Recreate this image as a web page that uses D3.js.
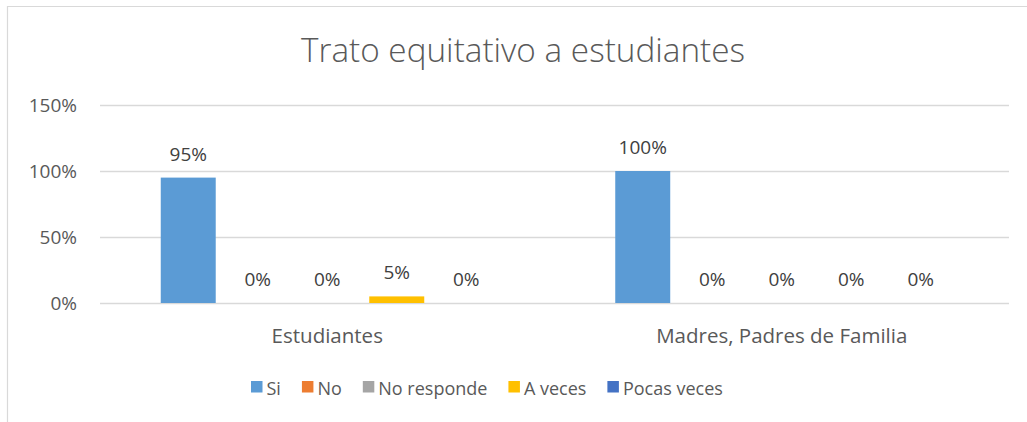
<html>
<script src="https://cdnjs.cloudflare.com/ajax/libs/d3/7.8.5/d3.min.js"></script>
<body style="margin:0;background:#fff">
<svg width="1027" height="422"></svg>
<script>
// data
var categories = ["Estudiantes", "Madres, Padres de Familia"];
var series = ["Si", "No", "No responde", "A veces", "Pocas veces"];
var valuesEstudiantes = [0.95, 0, 0, 0.05, 0];
var valuesPadres = [1.00, 0, 0, 0, 0];
var yTicks = [0, 0.5, 1, 1.5];
var colors = ["#5B9BD5", "#ED7D31", "#A5A5A5", "#FFC000", "#4472C4"];

var table = categories.map(function(c, i) {
  var vals = i === 0 ? valuesEstudiantes : valuesPadres;
  return { cat: c, vals: series.map(function(s, j) { return { s: s, v: vals[j], c: colors[j] }; }) };
});

var font = "'Open Sans', sans-serif";
var txt = "#595959";
var svg = d3.select("svg");

// chart frame (only top and left visible)
svg.append("line").attr("x1", 7).attr("x2", 1027).attr("y1", 6.5).attr("y2", 6.5)
  .style("stroke", "#d9d9d9").style("stroke-width", 1.2);
svg.append("line").attr("x1", 7.5).attr("x2", 7.5).attr("y1", 6).attr("y2", 422)
  .style("stroke", "#d9d9d9").style("stroke-width", 1.2);

// title
svg.append("text")
  .attr("x", 523).attr("y", 62)
  .attr("text-anchor", "middle")
  .style("font-family", font).style("font-size", "33.3px").style("font-weight", 300)
  .style("fill", txt)
  .text("Trato equitativo a estudiantes");

var plotL = 100, plotR = 1009, plotT = 105, plotB = 303;

var y = d3.scaleLinear().domain([0, 1.5]).range([plotB, plotT]);
var x0 = d3.scaleBand().domain(categories).range([plotL, plotR]).padding(0);
var x1 = d3.scaleBand().domain(series).range([0, x0.bandwidth()])
  .paddingInner(0.209).paddingOuter(0.874);

// gridlines
svg.append("g").selectAll("line").data(yTicks).enter().append("line")
  .attr("x1", plotL).attr("x2", plotR)
  .attr("y1", function(d) { return Math.round(y(d)) + 0.5; })
  .attr("y2", function(d) { return Math.round(y(d)) + 0.5; })
  .style("stroke", "#d9d9d9").style("stroke-width", 1.3);

// y labels
svg.append("g").selectAll("text").data(yTicks).enter().append("text")
  .attr("x", 77).attr("y", function(d) { return y(d) + 7; })
  .attr("text-anchor", "end")
  .style("font-family", font).style("font-size", "19px").style("fill", txt)
  .text(function(d) { return d3.format(".0%")(d); });

// bars
var groups = svg.append("g").selectAll("g").data(table).enter().append("g")
  .attr("transform", function(d) { return "translate(" + x0(d.cat) + ",0)"; });

groups.selectAll("rect").data(function(d) { return d.vals; }).enter().append("rect")
  .attr("x", function(d) { return x1(d.s); })
  .attr("width", x1.bandwidth())
  .attr("y", function(d) { return y(d.v); })
  .attr("height", function(d) { return plotB - y(d.v); })
  .style("fill", function(d) { return d.c; });

groups.selectAll("text.lbl").data(function(d) { return d.vals; }).enter().append("text")
  .attr("class", "lbl")
  .attr("x", function(d) { return x1(d.s) + x1.bandwidth() / 2; })
  .attr("y", function(d) { return y(d.v) - 17; })
  .attr("text-anchor", "middle")
  .style("font-family", font).style("font-size", "19px").style("fill", "#404040")
  .text(function(d) { return d3.format(".0%")(d.v); });

// category labels
svg.append("g").selectAll("text").data(categories).enter().append("text")
  .attr("x", function(d) { return x0(d) + x0.bandwidth() / 2; })
  .attr("y", 343)
  .attr("text-anchor", "middle")
  .style("font-family", font).style("font-size", "20.5px").style("fill", txt)
  .text(function(d) { return d; });

// legend
var lx = 251;
series.forEach(function(s, i) {
  svg.append("rect").attr("x", lx).attr("y", 381).attr("width", 11.5).attr("height", 11.5)
    .style("fill", colors[i]);
  var t = svg.append("text").attr("x", lx + 15.5).attr("y", 395)
    .style("font-family", font).style("font-size", "18px").style("fill", txt)
    .text(s);
  lx += 15.5 + t.node().getComputedTextLength() + 21;
});
</script>
</body>
</html>
